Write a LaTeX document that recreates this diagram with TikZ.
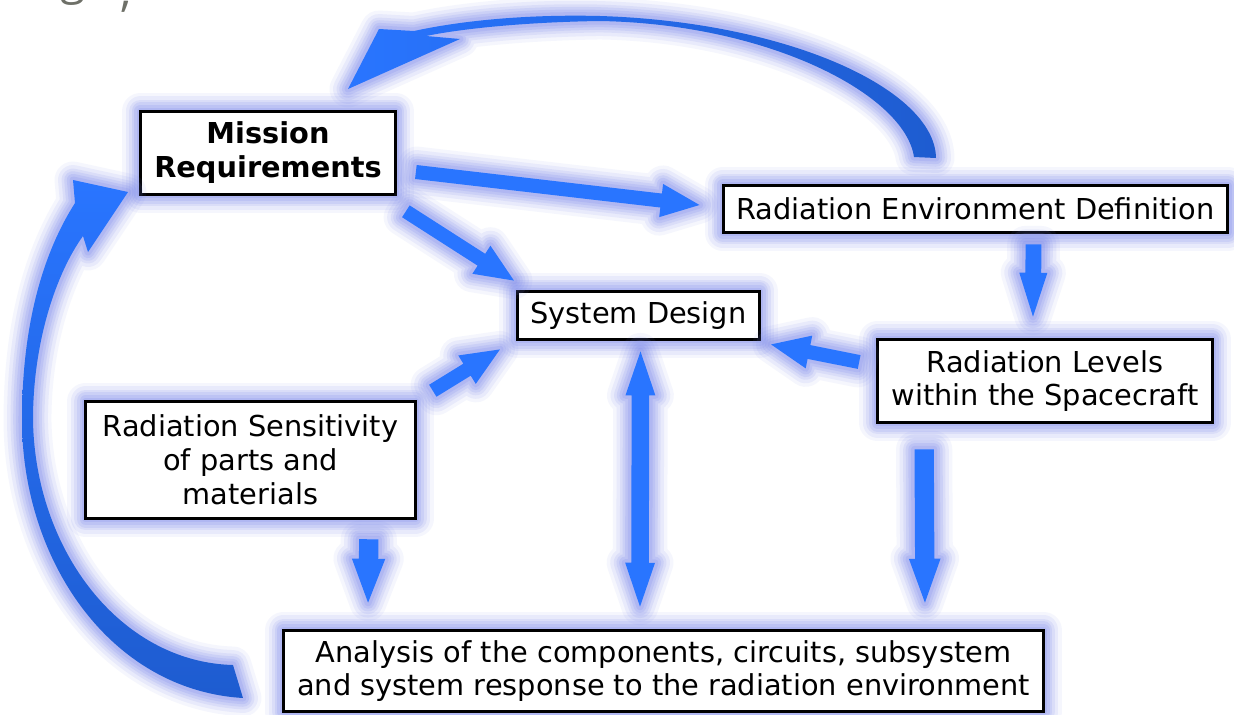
\documentclass[tikz,border=0pt]{standalone}
\usepackage{fontspec}
\setmainfont{DejaVu Sans}
\newfontfamily\slidefont{Open Sans}
\usetikzlibrary{calc}

\definecolor{arrowblue}{RGB}{41,117,255}
\definecolor{deepblue}{RGB}{30,92,208}
\definecolor{haloblue}{RGB}{118,132,234}
\definecolor{slidegrey}{RGB}{110,112,104}

\tikzset{
  halo/.style={
    preaction={draw=haloblue,line width=21pt,opacity=.07,line join=round},
    preaction={draw=haloblue,line width=17pt,opacity=.10,line join=round},
    preaction={draw=haloblue,line width=13pt,opacity=.12,line join=round},
    preaction={draw=haloblue,line width=10pt,opacity=.14,line join=round},
    preaction={draw=haloblue,line width=7pt,opacity=.16,line join=round},
    preaction={draw=haloblue,line width=4pt,opacity=.18,line join=round}},
  box/.style={draw=black,line width=1.7pt,fill=white,align=center,inner sep=0pt,
    font=\fontsize{16.4pt}{19.3pt}\selectfont,halo},
  flow/.style={fill=arrowblue,halo},
  shaft half/.store in=\shafthalf, shaft half=4pt,
  tip half/.store in=\tiphalf, tip half=9.5pt,
  tip len/.store in=\tiplen, tip len=22pt,
}

% block arrow from #2 to #3
\newcommand\blockarrow[3][]{%
  \begin{scope}[#1]
  \coordinate (ba0) at (#2);
  \coordinate (ba1) at (#3);
  \coordinate (bah) at ($(ba1)!\tiplen!(ba0)$);
  \path[flow] ($(ba0)!\shafthalf!90:(ba1)$) -- ($(bah)!\shafthalf!-90:(ba0)$)
    -- ($(bah)!\tiphalf!-90:(ba0)$) -- (ba1) -- ($(bah)!\tiphalf!90:(ba0)$)
    -- ($(bah)!\shafthalf!90:(ba0)$) -- ($(ba0)!\shafthalf!-90:(ba1)$) -- cycle;
  \end{scope}}

% block arrow with a tip at both ends
\newcommand\twowayarrow[3][]{%
  \begin{scope}[#1]
  \coordinate (ba0) at (#2);
  \coordinate (ba1) at (#3);
  \coordinate (bah) at ($(ba1)!\tiplen!(ba0)$);
  \coordinate (bat) at ($(ba0)!\tiplen!(ba1)$);
  \path[flow] ($(bat)!\shafthalf!90:(ba1)$) -- ($(bah)!\shafthalf!-90:(ba0)$)
    -- ($(bah)!\tiphalf!-90:(ba0)$) -- (ba1) -- ($(bah)!\tiphalf!90:(ba0)$)
    -- ($(bah)!\shafthalf!90:(ba0)$) -- ($(bat)!\shafthalf!-90:(ba1)$)
    -- ($(bat)!\tiphalf!-90:(ba1)$) -- (ba0) -- ($(bat)!\tiphalf!90:(ba1)$) -- cycle;
  \end{scope}}

\begin{document}
\begin{tikzpicture}[x=0.02cm,y=-0.02cm]
\useasboundingbox[fill=white] (0,0) rectangle (1234,714);

% left-over of the slide title
\node[anchor=base west,inner sep=0,text=slidegrey,font=\slidefont\fontsize{26pt}{26pt}\selectfont] (title) at (60,-6) {g\hspace{20pt}\raisebox{-7pt}{,}};

% boxes
\node[box,font=\bfseries\fontsize{16.4pt}{19.3pt}\selectfont,minimum width=145pt,minimum height=47.6pt] (req) at (268,153) {Mission\\Requirements};
\node[box,minimum width=287.4pt,minimum height=27.2pt] (env) at (975.5,209) {Radiation Environment Definition};
\node[box,minimum width=137.8pt,minimum height=27.8pt] (design) at (638.5,315.5) {System Design};
\node[box,minimum width=190.5pt,minimum height=47.6pt] (levels) at (1045,381) {Radiation Levels\\within the Spacecraft};
\node[box,minimum width=187.6pt,minimum height=66.9pt] (sens) at (250.5,460) {Radiation Sensitivity\\of parts and\\materials};
\node[box,minimum width=432.5pt,minimum height=46.5pt] (analysis) at (663.5,671) {Analysis of the components, circuits, subsystem\\and system response to the radiation environment};

% straight arrows
\blockarrow{$(req.east)+(19,19)$}{$(env.west)+(-22,-4)$}
\blockarrow{$(req.south east)+(9,15)$}{$(design.north west)+(-2,-9)$}
\blockarrow[shaft half=4.5pt,tip half=8pt,tip len=25pt]{$(env.south)+(58,10)$}{$(levels.north)+(-12,-21)$}
\blockarrow{$(levels.west)+(-17,-19)$}{$(design.south east)+(10,3)$}
\blockarrow{$(sens.north east)+(16,-9)$}{$(design.south west)+(-16,8)$}
\twowayarrow[shaft half=5pt,tip half=8.5pt,tip len=25pt]{$(design.south)+(2,10)$}{$(analysis.north)+(-23.5,-22)$}
\blockarrow[shaft half=5.5pt,tip half=9.5pt,tip len=25pt]{$(sens.south east)+(-48,19)$}{$(analysis.north west)+(86,-26)$}
\blockarrow[shaft half=5.5pt,tip half=9pt,tip len=25pt]{$(levels.south west)+(48,25)$}{$(analysis.north east)+(-120,-26)$}

% curved feedback arrows
\path[halo,top color=arrowblue,bottom color=deepblue] (243,698) .. controls (110,690) and (22,560) .. (22,420)
  .. controls (22,320) and (45,250) .. (75,203) -- (73,180) -- (128,192) -- (88,252) -- (83,236)
  .. controls (57,272) and (33,340) .. (33,420) .. controls (35,550) and (120,662) .. (233,665) -- cycle;
\path[halo,left color=arrowblue,right color=deepblue] (936,158) .. controls (935,90) and (790,22) .. (600,16)
  .. controls (520,14) and (455,22) .. (414,31) -- (379,29) -- (348,89) -- (460,39) -- (426,36)
  .. controls (465,28) and (530,22) .. (600,21) .. controls (770,24) and (905,95) .. (914,157) -- cycle;
\end{tikzpicture}
\end{document}
